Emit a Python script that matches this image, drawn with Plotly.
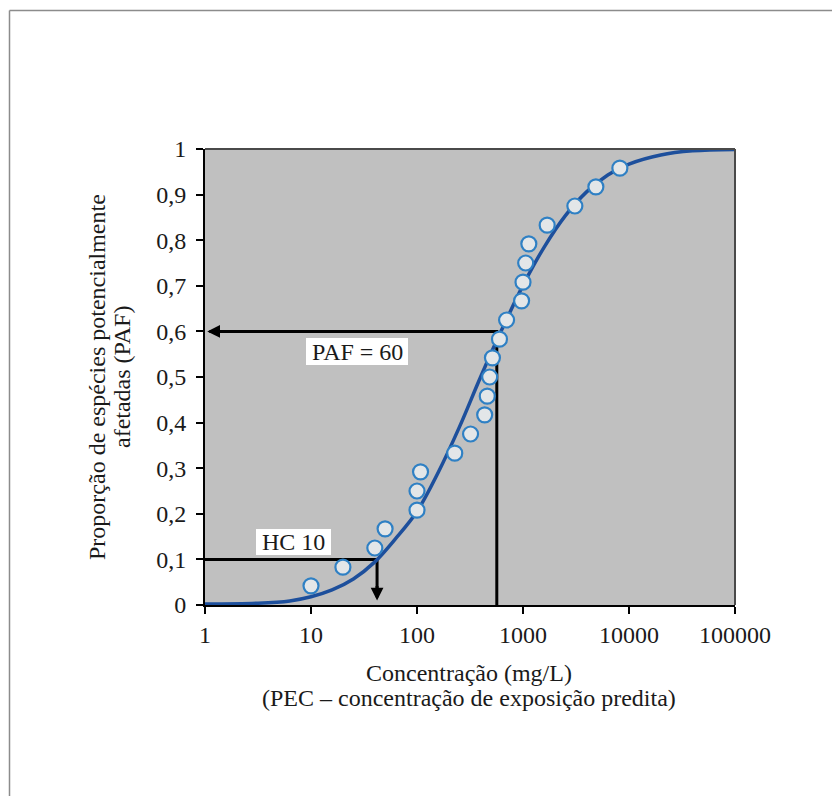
import numpy as np
import plotly.graph_objects as go

# ---- data ----
species_conc = [10, 20, 40, 50, 100, 100, 108, 227, 320, 435, 460, 485, 515,
                600, 700, 970, 1000, 1060, 1135, 1690, 3085, 4870, 8200]
species_paf = [0.042, 0.083, 0.125, 0.167, 0.208, 0.250, 0.292, 0.333, 0.375,
               0.417, 0.458, 0.500, 0.542, 0.583, 0.625, 0.667, 0.708, 0.750,
               0.792, 0.833, 0.875, 0.917, 0.958]

curve_conc = [1, 3.16, 6.31, 10, 15.8, 25.1, 39.8, 63.1, 100, 158, 251, 398,
              631, 1000, 1585, 2512, 3981, 6310, 10000, 19950, 39810, 100000]
curve_paf = [0.002, 0.004, 0.009, 0.018, 0.033, 0.057, 0.094, 0.146, 0.205,
             0.290, 0.390, 0.500, 0.604, 0.701, 0.785, 0.854, 0.906, 0.943,
             0.967, 0.987, 0.996, 0.999]

hc10_conc = 42
hc10_level = 0.1
paf_conc = 566
paf_level = 0.6

x_tick_vals = [1, 10, 100, 1000, 10000, 100000]
x_tick_text = ["1", "10", "100", "1000", "10000", "100000"]
y_tick_vals = [0, 0.1, 0.2, 0.3, 0.4, 0.5, 0.6, 0.7, 0.8, 0.9, 1]
y_tick_text = ["0", "0,1", "0,2", "0,3", "0,4", "0,5", "0,6", "0,7", "0,8", "0,9", "1"]

x_min = 1

FONT = "Liberation Serif"
FS = 24
TXT = "#1a1a1a"

fig = go.Figure()

# HC10 guide line
fig.add_trace(go.Scatter(
    x=[x_min, hc10_conc, hc10_conc], y=[hc10_level, hc10_level, 0.02],
    mode="lines", line=dict(color="black", width=3), hoverinfo="skip"))
# PAF guide line
fig.add_trace(go.Scatter(
    x=[paf_conc, paf_conc, x_min * 1.1], y=[0, paf_level, paf_level],
    mode="lines", line=dict(color="black", width=3), hoverinfo="skip"))
# fitted curve
fig.add_trace(go.Scatter(
    x=curve_conc, y=curve_paf, mode="lines", line_shape="spline",
    line=dict(color="#1d4f9c", width=3.5), hoverinfo="skip"))
# species points
fig.add_trace(go.Scatter(
    x=species_conc, y=species_paf, mode="markers",
    marker=dict(size=15, color="#e3e6e8", line=dict(color="#2f80c4", width=2.2))))

axis_common = dict(
    ticks="outside", ticklen=7, tickwidth=2, tickcolor="black",
    showline=True, linecolor="black", linewidth=2,
    showgrid=False, zeroline=False,
    tickfont=dict(family=FONT, size=FS, color=TXT),
)

fig.update_xaxes(type="log", range=[0, 5], tickvals=x_tick_vals,
                 ticktext=x_tick_text, **axis_common)
fig.update_yaxes(range=[0, 1], tickvals=y_tick_vals, ticktext=y_tick_text,
                 ticklabelstandoff=5, **axis_common)

# page body has an 8px margin; figure coordinates are page - 8
OFF = 8
W, H = 832, 788
L, R, T, B = 197, 105, 141, 191
pw, ph = W - L - R, H - T - B


def px(xp):
    return (xp - OFF - L) / pw


def py(yp):
    return (H - B - (yp - OFF)) / ph


shapes = [
    # top / right frame
    dict(type="line", xref="paper", yref="paper", x0=0, x1=1, y0=1, y1=1,
         line=dict(color="#4a4a4a", width=2)),
    dict(type="line", xref="paper", yref="paper", x0=1, x1=1, y0=0, y1=1,
         line=dict(color="#4a4a4a", width=2)),
    # outer border (top and left)
    dict(type="line", xref="paper", yref="paper", x0=px(9.5), x1=px(850),
         y0=py(10.5), y1=py(10.5), line=dict(color="#8c8c8c", width=1.5)),
    dict(type="line", xref="paper", yref="paper", x0=px(9.5), x1=px(9.5),
         y0=py(10.5), y1=py(810), line=dict(color="#8c8c8c", width=1.5)),
    # label boxes
    dict(type="rect", xref="paper", yref="paper", x0=px(306), x1=px(408),
         y0=py(365), y1=py(338), fillcolor="white", line=dict(width=0),
         layer="above"),
    dict(type="rect", xref="paper", yref="paper", x0=px(256), x1=px(331),
         y0=py(555), y1=py(529), fillcolor="white", line=dict(width=0),
         layer="above"),
]

center = dict(xanchor="center", yanchor="middle", showarrow=False)

annotations = [
    dict(text="PAF = 60", xref="paper", yref="paper", x=px(357), y=py(352),
         font=dict(family=FONT, size=FS, color=TXT), **center),
    dict(text="HC 10", xref="paper", yref="paper", x=px(293.5), y=py(542),
         font=dict(family=FONT, size=FS, color=TXT), **center),
    # arrow heads
    dict(text="", xref="x", yref="y", x=np.log10(x_min * 1.05), y=paf_level,
         ax=16, ay=0, showarrow=True, arrowhead=2, arrowsize=0.85,
         arrowwidth=3, arrowcolor="black"),
    dict(text="", xref="x", yref="y", x=np.log10(hc10_conc), y=0.01,
         ax=0, ay=-16, showarrow=True, arrowhead=2, arrowsize=0.85,
         arrowwidth=3, arrowcolor="black"),
    # axis titles
    dict(text="Concentração (mg/L)", xref="paper", yref="paper",
         x=px(469), y=py(673), font=dict(family=FONT, size=FS, color=TXT),
         **center),
    dict(text="(PEC – concentração de exposição predita)", xref="paper",
         yref="paper", x=px(469), y=py(698),
         font=dict(family=FONT, size=FS, color=TXT), **center),
    dict(text="Proporção de espécies potencialmente", xref="paper",
         yref="paper", x=px(97), y=py(377), textangle=-90,
         font=dict(family=FONT, size=FS, color=TXT), **center),
    dict(text="afetadas (PAF)", xref="paper", yref="paper", x=px(122),
         y=py(377), textangle=-90,
         font=dict(family=FONT, size=FS, color=TXT), **center),
]

fig.update_layout(
    width=W, height=H,
    margin=dict(l=L, r=R, t=T, b=B, autoexpand=False),
    paper_bgcolor="white", plot_bgcolor="#c0c0c0",
    showlegend=False,
    font=dict(family=FONT, size=FS, color=TXT),
    shapes=shapes, annotations=annotations,
)

fig.write_html("out.html")
